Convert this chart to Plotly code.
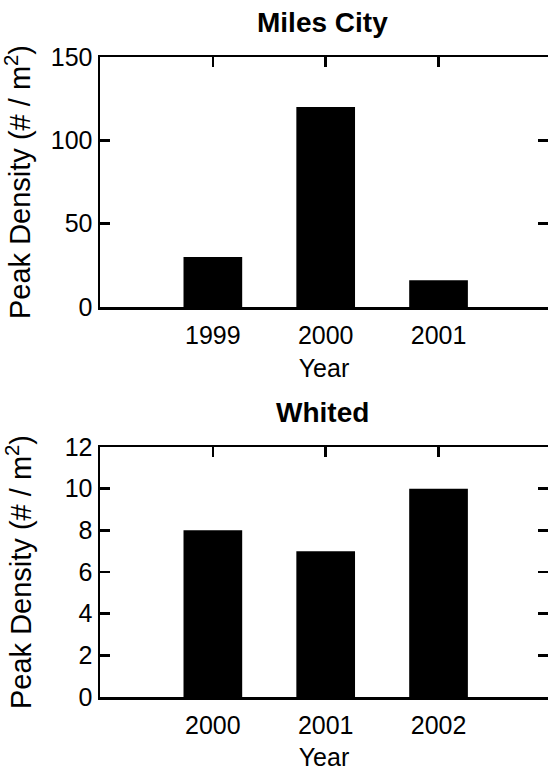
import plotly.graph_objects as go

# ---- data ----
mc_years = ["1999", "2000", "2001"]
mc_density = [30, 120, 16]
wh_years = ["2000", "2001", "2002"]
wh_density = [8, 7, 10]
mc_yticks = [0, 50, 100, 150]
wh_yticks = [0, 2, 4, 6, 8, 10, 12]
titles = ["Miles City", "Whited"]
x_title = "Year"
y_title = "Peak Density (# / m<sup>2</sup>)"

W, H = 548, 771
FONT = "Liberation Sans, Arial, Helvetica, sans-serif"
TICK_SIZE = 25
LW = 2.5

fig = go.Figure()
fig.add_trace(go.Bar(x=mc_years, y=mc_density, xaxis="x", yaxis="y",
                     marker=dict(color="black", line=dict(width=0)), width=0.52,
                     showlegend=False))
fig.add_trace(go.Bar(x=wh_years, y=wh_density, xaxis="x2", yaxis="y2",
                     marker=dict(color="black", line=dict(width=0)), width=0.52,
                     showlegend=False))


def px_y(top, bottom):
    return [1 - bottom / H, 1 - top / H]


common_x = dict(type="category", range=[-1, 2.97], showline=True, linewidth=LW,
                linecolor="black", mirror="ticks", ticks="inside", ticklen=10,
                tickwidth=LW, tickcolor="black", showgrid=False, zeroline=False,
                tickfont=dict(size=TICK_SIZE, color="black"), ticklabelstandoff=4,
                title=dict(text=x_title, font=dict(size=TICK_SIZE, color="black"), standoff=12),
                automargin=False, fixedrange=True, domain=[0, 1])
common_y = dict(showline=True, linewidth=LW, linecolor="black", mirror="ticks",
                ticks="inside", ticklen=10, tickwidth=LW, tickcolor="black",
                showgrid=False, zeroline=False,
                tickfont=dict(size=TICK_SIZE, color="black"),
                title=dict(text=y_title, font=dict(size=29, color="black"), standoff=25),
                automargin=False, fixedrange=True)

fig.update_layout(
    width=W, height=H,
    margin=dict(l=100, r=0, t=0, b=0),
    paper_bgcolor="white", plot_bgcolor="white",
    font=dict(family=FONT, color="black"),
    bargap=0.48,
    xaxis=dict(common_x, anchor="y"),
    yaxis=dict(common_y, anchor="x", domain=px_y(57, 307), range=[0, 150],
               tickvals=mc_yticks),
    xaxis2=dict(common_x, anchor="y2"),
    yaxis2=dict(common_y, anchor="x2", domain=px_y(447, 697), range=[0, 12],
                tickvals=wh_yticks),
    annotations=[
        dict(text="<b>%s</b>" % titles[0], xref="paper", yref="paper",
             x=(322 - 100) / 448, y=1 - 22 / H, xanchor="center", yanchor="middle",
             showarrow=False, font=dict(size=28, color="black")),
        dict(text="<b>%s</b>" % titles[1], xref="paper", yref="paper",
             x=(322 - 100) / 448, y=1 - 412 / H, xanchor="center", yanchor="middle",
             showarrow=False, font=dict(size=28, color="black")),
    ],
)

fig.write_html("out.html",
               config={"displayModeBar": False, "staticPlot": True},
               post_script="document.body.style.margin='0';"
                           "document.body.style.overflow='hidden';")
